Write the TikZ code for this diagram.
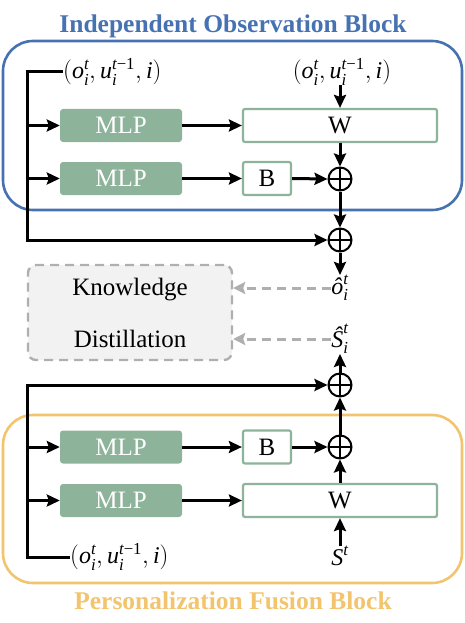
\documentclass[tikz,border=0pt]{standalone}
\usepackage{amsmath}
\usepackage{fontspec}
\setmainfont{Liberation Serif}
\usetikzlibrary{arrows.meta}
\definecolor{blu}{RGB}{70,114,178}
\definecolor{ora}{RGB}{242,196,110}
\definecolor{grn}{RGB}{141,180,155}
\definecolor{gry}{RGB}{175,175,175}
\definecolor{kdfill}{RGB}{242,242,242}
\newcommand\ii[1]{\textit{#1}}
\newcommand\obs{$(\ii{o}^{\ii{t}}_{\ii{i}}{,}\,\ii{u}^{\ii{t}\text{−1}}_{\ii{i}}{,}\,\ii{i})$}
\begin{document}
\begin{tikzpicture}[x=1pt,y=-1pt,
  txt/.style={font=\fontsize{25}{30}\selectfont},
  lbl/.style={font=\fontsize{24}{28}\selectfont, inner sep=0pt},
  ttl/.style={font=\bfseries\fontsize{25.5}{30}\selectfont, inner sep=0pt, anchor=base},
  mlp/.style={txt, fill=grn, text=white, rounded corners=3pt, minimum width=122pt, minimum height=33pt, inner sep=0pt},
  wbox/.style={txt, draw=grn, line width=2.2pt, fill=white, rounded corners=2pt, minimum height=33pt, inner sep=0pt},
  container/.style={line width=2.6pt, rounded corners=30pt, minimum width=459pt, inner sep=0pt},
  plusnode/.style={circle, draw, line width=2pt, minimum size=23pt, inner sep=0pt,
    path picture={\draw[line width=1.8pt] (path picture bounding box.north) -- (path picture bounding box.south)
      (path picture bounding box.west) -- (path picture bounding box.east);}},
  arr/.style={line width=3pt, -{Stealth[length=13pt,width=12pt,inset=2pt]}},
  darr/.style={line width=3pt, gry, dash pattern=on 9pt off 6pt, -{Stealth[length=12pt,width=12pt,inset=2pt]}},
]
\useasboundingbox (0,0) rectangle (465,623);

% containers
\node[container, draw=blu, minimum height=169pt] (ob) at (232.5,125.5) {};
\node[ttl, text=blu] (obt) at (233,33) {Independent Observation Block};
\node[container, draw=ora, minimum height=168pt] (pf) at (232.5,499) {};
\node[ttl, text=ora] (pft) at (233,609) {Personalization Fusion Block};

% top block
\node[lbl, anchor=west] (lab1) at (63,72) {\obs};
\node[lbl] (lab2) at (342,72) {\obs};
\node[mlp] (m1) at (121,125.5) {MLP};
\node[mlp] (m2) at (121,178.5) {MLP};
\node[wbox, minimum width=194pt] (w1) at (340,125.5) {W};
\node[wbox, minimum width=48pt] (b1) at (267,178.5) {B};
\node[plusnode] (p1) at (340,179) {};
\node[plusnode] (p2) at (340,240) {};
\coordinate (c2) at (27,240);

\draw[arr] (lab1.west) -| (c2) -- (p2.west);
\draw[arr] (c2 |- m1) -- (m1.west);
\draw[arr] (c2 |- m2) -- (m2.west);
\draw[arr] (m1.east) -- (w1.west);
\draw[arr] (m2.east) -- (b1.west);
\draw[arr] (b1.east) -- (p1.west);
\draw[arr] (lab2.south -| w1.north) -- (w1.north);
\draw[arr] (w1.south) -- (p1.north);
\draw[arr] (p1.south) -- (p2.north);

% middle
\node[lbl] (oh) at (340,288) {$\ii{ô}^{\ii{t}}_{\ii{i}}$};
\node[lbl] (sh) at (340,339) {$\ii{Ŝ}^{\ii{t}}_{\ii{i}}$};
\node[draw=gry, fill=kdfill, line width=2.4pt, dash pattern=on 9pt off 6pt, rounded corners=8pt,
  minimum width=204pt, minimum height=95pt, align=center, font=\fontsize{25}{52}\selectfont] (kd) at (130,312.5)
  {Knowledge\\Distillation};
\draw[arr] (p2.south) -- (oh.north);
\draw[darr] (oh.west) -- (kd.east |- oh.west);
\draw[darr] (sh.west) -- (kd.east |- sh.west);

% bottom block
\node[plusnode] (p3) at (340,385) {};
\node[plusnode] (p4) at (340,447) {};
\node[mlp] (m3) at (121,447) {MLP};
\node[mlp] (m4) at (121,500.5) {MLP};
\node[wbox, minimum width=48pt] (b2) at (267,447) {B};
\node[wbox, minimum width=194pt] (w2) at (340,500.5) {W};
\node[lbl, anchor=west] (lab3) at (70,557) {\obs};
\node[lbl, anchor=base] (st) at (340,565) {$\ii{S}^{\ii{t}}$};
\coordinate (c3) at (27,385);

\draw[arr] (lab3.west) -| (c3) -- (p3.west);
\draw[arr] (c3 |- m3) -- (m3.west);
\draw[arr] (c3 |- m4) -- (m4.west);
\draw[arr] (m3.east) -- (b2.west);
\draw[arr] (m4.east) -- (w2.west);
\draw[arr] (b2.east) -- (p4.west);
\draw[arr] (st.north) -- (w2.south);
\draw[arr] (w2.north) -- (p4.south);
\draw[arr] (p4.north) -- (p3.south);
\draw[arr] (p3.north) -- (sh.south);
\end{tikzpicture}
\end{document}
